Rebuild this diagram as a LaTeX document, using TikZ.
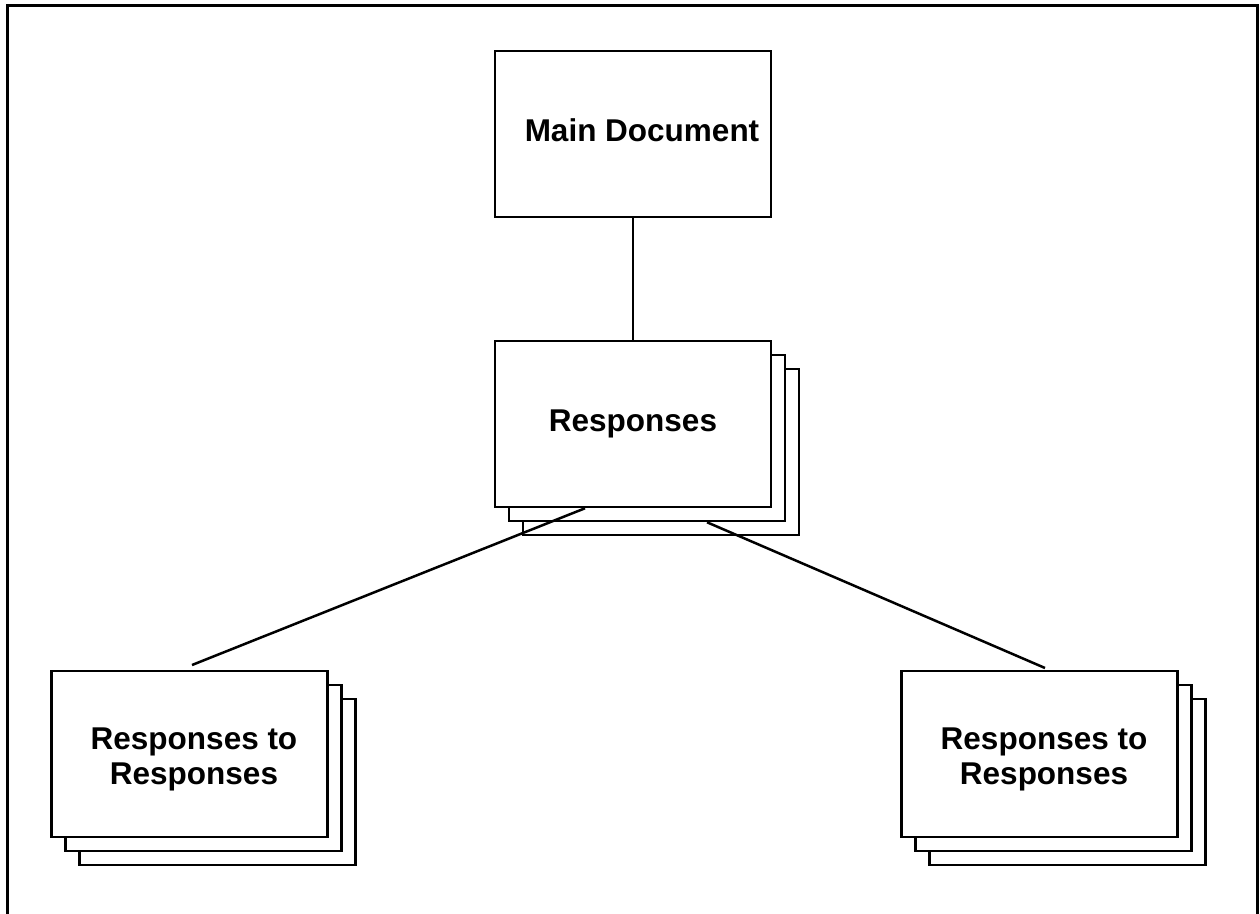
\documentclass[tikz,border=0pt]{standalone}
\usepackage{fontspec}
\setmainfont{Liberation Sans}
\usetikzlibrary{calc}
\begin{document}
\begin{tikzpicture}[x=1pt,y=-1pt,line width=2.5pt,
  card/.style={draw=black,fill=white,minimum width=276pt,minimum height=166pt,inner sep=0pt},
  cardtext/.style={inner sep=0pt,align=center,font=\fontsize{31.5}{35}\selectfont\bfseries},
  link/.style={draw=black,line width=2.5pt}]
\clip (0,0) rectangle (1260,913);
\useasboundingbox (0,0) rectangle (1260,913);
% outer frame (its lower edge runs past the page)
\draw (7.5,5.5) rectangle (1257.5,930);

% main document
\node[card] (main) at (633,134) {};
\node[cardtext,xshift=9pt,yshift=4pt] (main-t) at (main) {Main Document};

% stack of responses
\node[card] (resp3) at (661,452) {};
\node[card] (resp2) at (647,438) {};
\node[card] (resp) at (633,424) {};
\node[cardtext] (resp-t) at (resp) {Responses};

% left stack of responses to responses
\node[card] (left3) at (217.5,782) {};
\node[card] (left2) at (203.5,768) {};
\node[card] (left) at (189.5,754) {};
\node[cardtext,xshift=4.5pt,yshift=-5pt] (left-t) at (left) {Responses to\\Responses};

% right stack of responses to responses
\node[card] (right3) at (1067.5,782) {};
\node[card] (right2) at (1053.5,768) {};
\node[card] (right) at (1039.5,754) {};
\node[cardtext,xshift=4.5pt,yshift=-5pt] (right-t) at (right) {Responses to\\Responses};

% connectors
\coordinate (resp-l) at ($(resp.south)+(-48,0)$);
\coordinate (resp-r) at ($(resp2.south)+(60,0)$);
\coordinate (left-top) at ($(left.north)+(2.5,-4.75)$);
\coordinate (right-top) at ($(right.north)+(5.5,-1.75)$);
\draw[link] (main.south) -- (resp.north);
\draw[link] (resp-l) -- (left-top);
\draw[link] (resp-r) -- (right-top);
\end{tikzpicture}
\end{document}
